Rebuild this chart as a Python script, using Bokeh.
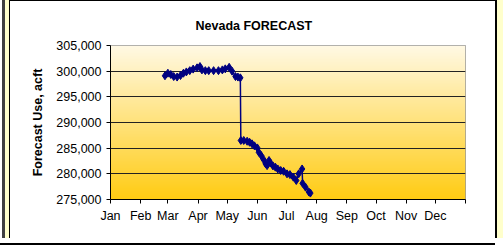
import numpy as np
from bokeh.plotting import figure
from bokeh.models import Range1d, FixedTicker, NumeralTickFormatter
from bokeh.embed import file_html
from bokeh.resources import INLINE

# ---- data (day of year, forecast use in acre-feet) ----
days = [56, 59, 62, 65, 68.5, 72, 75, 78, 81.5, 85, 89, 92, 94, 97.5, 101, 106, 111, 115,
        118, 122, 125, 128.5, 131, 133.5, 134, 137, 140.5, 143, 145.5, 148, 151, 152.5,
        155, 157.5, 159.5, 161, 163, 164.5, 167, 169.5, 172, 175, 178, 181.5, 184.5,
        188, 191, 193.5, 197, 197.5, 200.5, 204, 205.5]
forecast = [299100, 299600, 299350, 298950, 298850, 299150, 299600, 299850, 300100, 300400,
            300650, 300900, 300250, 300100, 300100, 300100, 300100, 300250,
            300450, 300750, 300000, 298950, 298850, 298700, 286500, 286500, 286350,
            286150, 285850, 285450, 285050, 284200,
            283550, 282750, 281950, 281600, 282600, 282100, 281550, 281300, 280950,
            280650, 280500, 280000, 279850,
            279350, 278700, 280000, 280950, 278150, 277400, 276450, 276250]

month_starts = [0, 31, 59, 90, 120, 151, 181, 212, 243, 273, 304, 334, 365]
month_labels = ["Jan", "Feb", "Mar", "Apr", "May", "Jun", "Jul", "Aug", "Sep", "Oct",
                "Nov", "Dec", ""]
y_ticks = [275000, 280000, 285000, 290000, 295000, 300000, 305000]

FONT = "Liberation Sans"

p = figure(width=495, height=238, output_backend="svg", toolbar_location=None,
           x_range=Range1d(month_starts[0], month_starts[-1]),
           y_range=Range1d(y_ticks[0], y_ticks[-1]),
           min_border_left=110, min_border_right=30, min_border_top=45,
           min_border_bottom=39)

# vertical gradient background for the plot area
n = 160
img = np.empty((n, 1), dtype=np.uint32)
view = img.view(dtype=np.uint8).reshape((n, 1, 4))
bottom = np.array([255, 204, 20])
top = np.array([255, 249, 228])
for i in range(n):
    t = i / (n - 1)
    c = bottom + (top - bottom) * t
    view[i, 0, 0] = int(c[0]); view[i, 0, 1] = int(c[1]); view[i, 0, 2] = int(c[2]); view[i, 0, 3] = 255
p.image_rgba(image=[img], x=month_starts[0], y=y_ticks[0],
             dw=month_starts[-1] - month_starts[0], dh=y_ticks[-1] - y_ticks[0], level="image")

p.line(days, forecast, line_color="#000080", line_width=1.5)
p.scatter(days, forecast, marker="diamond", size=8, fill_color="#000080",
          line_color="#000080")

# title
p.title.text = "Nevada FORECAST"
p.title.align = "left"
p.title.text_font = FONT
p.title.text_font_size = "12.5px"
p.title.text_font_style = "bold"
p.title.text_color = "black"
p.title.offset = 85
p.title.standoff = 26

# axes
p.xaxis.ticker = FixedTicker(ticks=month_starts)
p.xaxis.major_label_overrides = {m: l for m, l in zip(month_starts, month_labels)}
p.yaxis.ticker = FixedTicker(ticks=y_ticks)
p.yaxis.formatter = NumeralTickFormatter(format="0,0")
p.yaxis.axis_label = "Forecast Use, acft"
p.yaxis.axis_label_text_font = FONT
p.yaxis.axis_label_text_font_size = "12.5px"
p.yaxis.axis_label_text_font_style = "bold"
p.yaxis.axis_label_text_color = "black"
p.yaxis.axis_label_standoff = 8
for ax in (p.xaxis, p.yaxis):
    ax.major_label_text_font = FONT
    ax.major_label_text_font_size = "12.5px"
    ax.major_label_text_color = "black"
    ax.axis_line_color = "black"
    ax.major_tick_line_color = "black"
    ax.minor_tick_line_color = None
    ax.major_tick_in = 0
    ax.major_tick_out = 4
    ax.major_label_standoff = 5

p.xgrid.visible = False
p.ygrid.ticker = FixedTicker(ticks=y_ticks[1:-1])
p.ygrid.grid_line_color = "#222222"
p.ygrid.grid_line_width = 1
p.outline_line_color = "#999999"
p.background_fill_color = None
p.border_fill_color = None

# outer chart frame drawn with CSS on the plot element
p.styles = {
    "background": ("linear-gradient(black, black) 9px 0 / 100% 1px no-repeat, "
                   "linear-gradient(to right, white 0px, white 2px, #404040 2px, #404040 5px, "
                   "#FFFFCC 5px, #FFFFCC 9px, black 9px, black 10.5px, white 10.5px, white 100%)"),
    "box-shadow": ("1px 0 0 0 black, 2px 0 0 0 black, 8px 0 0 0 #FFFFCC, "
                   "0 5px 0 0 white, 0 7px 0 0 black"),
}

open("out.html", "w").write(file_html(p, INLINE))
